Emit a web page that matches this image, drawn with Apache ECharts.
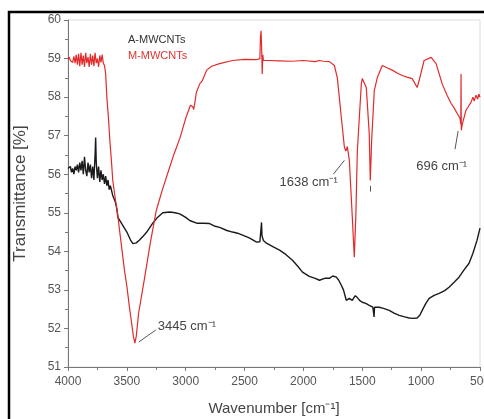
<!DOCTYPE html>
<html>
<head>
<meta charset="utf-8">
<script src="https://cdn.jsdelivr.net/npm/echarts@6/dist/echarts.min.js"></script>
<style>
html,body{margin:0;padding:0;background:#fff;}
#c{width:484px;height:419px;}
</style>
</head>
<body>
<div id="c"></div>
<script>
// ---- data (wavenumber cm^-1, transmittance %) ----
const xTicks = [500, 1000, 1500, 2000, 2500, 3000, 3500, 4000];
const yTicks = [51, 52, 53, 54, 55, 56, 57, 58, 59, 60];
const seriesNames = ['A-MWCNTs', 'M-MWCNTs'];

const aWavenumber = [4000,3990,3980,3970,3960,3950,3940,3930,3920,3910,3900,3890,3880,3870,3860,3850,3840,3830,3820,3810,3800,3790,3780,3770,3765,3760,3750,3740,3730,3720,3710,3700,3690,3680,3670,3660,3650,3640,3620,3600,3585,3576,3540,3500,3470,3449,3420,3390,3360,3331,3280,3240,3195,3136,3090,3051,3000,2966,2907,2850,2797,2750,2712,2650,2602,2560,2517,2460,2398,2370,2360,2356,2352,2340,2314,2260,2203,2150,2093,2050,2008,1950,1900,1864,1820,1780,1750,1720,1700,1678,1660,1636,1610,1585,1560,1542,1520,1500,1470,1441,1410,1400,1396,1356,1320,1271,1230,1186,1140,1102,1070,1034,1010,991,960,932,890,847,800,763,720,678,640,593,560,525,500];
const aTransmittance = [56.15,56.1,56.2,56.05,56.15,56.0,56.2,56.1,56.25,56.05,56.3,56.1,56.35,56.0,56.45,56.1,55.95,56.3,56.05,56.25,55.9,56.2,55.85,56.5,56.95,56.3,55.9,56.2,55.8,56.1,55.85,56.0,55.75,55.95,55.7,55.85,55.6,55.7,55.45,55.3,55.1,54.88,54.7,54.5,54.3,54.2,54.22,54.3,54.4,54.5,54.73,54.88,55.0,55.02,55.0,54.97,54.88,54.8,54.73,54.73,54.72,54.65,54.62,54.54,54.5,54.47,54.42,54.35,54.24,54.25,54.6,54.75,54.4,54.28,54.21,54.12,54.03,53.92,53.77,53.62,53.46,53.35,53.3,53.25,53.3,53.3,53.36,53.33,53.25,53.12,53.0,52.73,52.78,52.73,52.85,52.8,52.72,52.68,52.65,52.6,52.55,52.3,52.55,52.55,52.52,52.47,52.4,52.34,52.3,52.27,52.26,52.27,52.35,52.47,52.65,52.78,52.86,52.91,52.98,53.07,53.2,53.33,53.5,53.69,53.95,54.29,54.6];

const mWavenumber = [4000,3990,3980,3970,3960,3950,3940,3930,3920,3910,3900,3890,3880,3870,3860,3850,3840,3830,3820,3810,3800,3790,3780,3770,3760,3750,3740,3730,3720,3710,3700,3690,3680,3670,3655,3645,3630,3620,3600,3580,3560,3540,3520,3500,3480,3460,3445,3432,3420,3400,3350,3300,3250,3200,3150,3100,3050,3000,2960,2940,2932,2920,2910,2880,2870,2860,2822,2780,2712,2602,2500,2400,2370,2365,2360,2355,2350,2345,2340,2300,2200,2100,2000,1900,1864,1830,1780,1737,1712,1678,1652,1640,1627,1610,1585,1568,1555,1542,1508,1500,1466,1441,1432,1420,1398,1373,1330,1290,1246,1200,1161,1120,1076,1034,1017,975,915,873,822,780,746,720,695,670,663,661,659,650,619,600,576,560,550,534,520,510,500];
const mTransmittance = [58.98,59.04,58.95,59.0,58.9,59.06,58.88,59.1,58.84,59.12,58.8,59.15,58.84,59.08,58.78,59.15,58.88,59.04,58.78,59.12,58.84,59.08,58.8,59.15,58.88,59.0,58.78,59.08,58.9,59.1,58.88,58.82,58.6,58.0,57.4,56.9,56.3,55.85,55.4,55.0,54.5,54.0,53.5,53.1,52.6,52.15,51.8,51.62,51.8,52.4,53.3,54.23,55.06,55.58,56.05,56.52,56.93,57.45,57.79,57.75,57.68,57.9,58.12,58.35,58.3,58.42,58.7,58.8,58.87,58.95,58.98,58.97,59.0,59.55,59.72,59.3,58.6,59.1,58.95,58.95,58.94,58.93,58.95,58.92,58.95,58.93,58.92,58.82,58.5,57.47,56.7,56.6,56.72,56.36,54.9,53.85,54.9,56.6,58.35,58.48,58.25,57.06,55.84,56.9,58.17,58.5,58.82,58.76,58.7,58.62,58.56,58.52,58.48,58.25,58.43,58.95,59.03,58.87,58.35,58.05,57.84,57.72,57.58,57.45,57.3,58.6,57.14,57.3,57.66,57.75,57.87,58.0,57.9,58.05,57.95,58.08,58.0];

// annotation texts and anchor points (data coordinates)
const annText = ['3445 cm⁻¹', '1638 cm⁻¹', '696 cm⁻¹'];
const annTextPos = [[3237, 52.06], [2203, 55.79], [1042, 56.2]];
const annArrows = [
  [[3254, 51.96], [3398, 51.65]],
  [[1746, 56.0], [1652, 56.36]],
  [[1432, 55.55], [1432, 55.7]],
  [[712, 56.65], [686, 57.12]]
];

const zip = (xs, ys) => xs.map((x, i) => [x, ys[i]]);

const chart = echarts.init(document.getElementById('c'), null, {renderer: 'canvas'});
const labelColor = '#555';
const axisColor = '#777';

chart.setOption({
  animation: false,
  backgroundColor: '#fff',
  grid: {left: 68, right: 4, top: 20, bottom: 52, show: true, borderColor: '#dcdcdc', borderWidth: 1,
         containLabel: false, outerBoundsMode: 'none'},
  legend: {
    orient: 'vertical', left: 118, top: 29, itemGap: 5, itemWidth: 0, itemHeight: 0, icon: 'none',
    data: [
      {name: seriesNames[0], textStyle: {color: '#333'}},
      {name: seriesNames[1], textStyle: {color: '#e0342f'}}
    ],
    textStyle: {fontSize: 11, fontFamily: 'Liberation Sans', padding: 0}
  },
  xAxis: {
    type: 'value', inverse: true, min: xTicks[0], max: xTicks[xTicks.length - 1], interval: 500,
    name: 'Wavenumber [cm⁻¹]', nameLocation: 'middle', nameGap: 34,
    nameTextStyle: {fontSize: 15, color: '#444', fontFamily: 'Liberation Sans'},
    axisLine: {show: true, lineStyle: {color: axisColor, width: 1}},
    axisTick: {show: true, inside: false, length: 4, lineStyle: {color: axisColor}},
    minorTick: {show: true, splitNumber: 2, length: 3, lineStyle: {color: axisColor}},
    splitLine: {show: false},
    axisLabel: {fontSize: 12, color: labelColor, margin: 9, fontFamily: 'Liberation Sans',
                formatter: v => String(v)}
  },
  yAxis: {
    type: 'value', min: yTicks[0], max: yTicks[yTicks.length - 1], interval: 1,
    name: 'Transmittance [%]', nameLocation: 'middle', nameGap: 39,
    nameTextStyle: {fontSize: 17, color: '#444', fontFamily: 'Liberation Sans'},
    axisLine: {show: true, lineStyle: {color: axisColor, width: 1}},
    axisTick: {show: true, inside: false, length: 4, lineStyle: {color: axisColor}},
    minorTick: {show: true, splitNumber: 2, length: 3, lineStyle: {color: axisColor}},
    splitLine: {show: false},
    axisLabel: {fontSize: 12, color: labelColor, margin: 7, fontFamily: 'Liberation Sans',
                formatter: v => String(v)}
  },
  graphic: [{
    type: 'polyline', silent: true,
    shape: {points: [[9, 419], [9, 12], [484, 12]]},
    style: {stroke: '#000', lineWidth: 2.5, fill: null}
  }],
  series: [
    {
      name: seriesNames[0], type: 'line', data: zip(aWavenumber, aTransmittance),
      showSymbol: false, symbol: 'none', color: '#1a1a1a',
      lineStyle: {color: '#1a1a1a', width: 1.4}
    },
    {
      name: seriesNames[1], type: 'line', data: zip(mWavenumber, mTransmittance),
      showSymbol: false, symbol: 'none', color: '#e32a2a',
      lineStyle: {color: '#e32a2a', width: 1.2},
      markLine: {
        silent: true, animation: false, symbol: ['none', 'arrow'], symbolSize: [0, 5],
        label: {show: false},
        lineStyle: {color: '#555', width: 1, type: 'solid'},
        data: annArrows.map(a => [{coord: a[0]}, {coord: a[1]}])
      },
      markPoint: {
        silent: true, animation: false, symbol: 'circle', symbolSize: 0,
        data: annText.map((t, i) => ({
          coord: annTextPos[i],
          label: {show: true, position: 'right', distance: 0, formatter: t,
                  color: '#444', fontSize: 13, fontFamily: 'Liberation Sans'}
        }))
      }
    }
  ]
});
</script>
</body>
</html>
